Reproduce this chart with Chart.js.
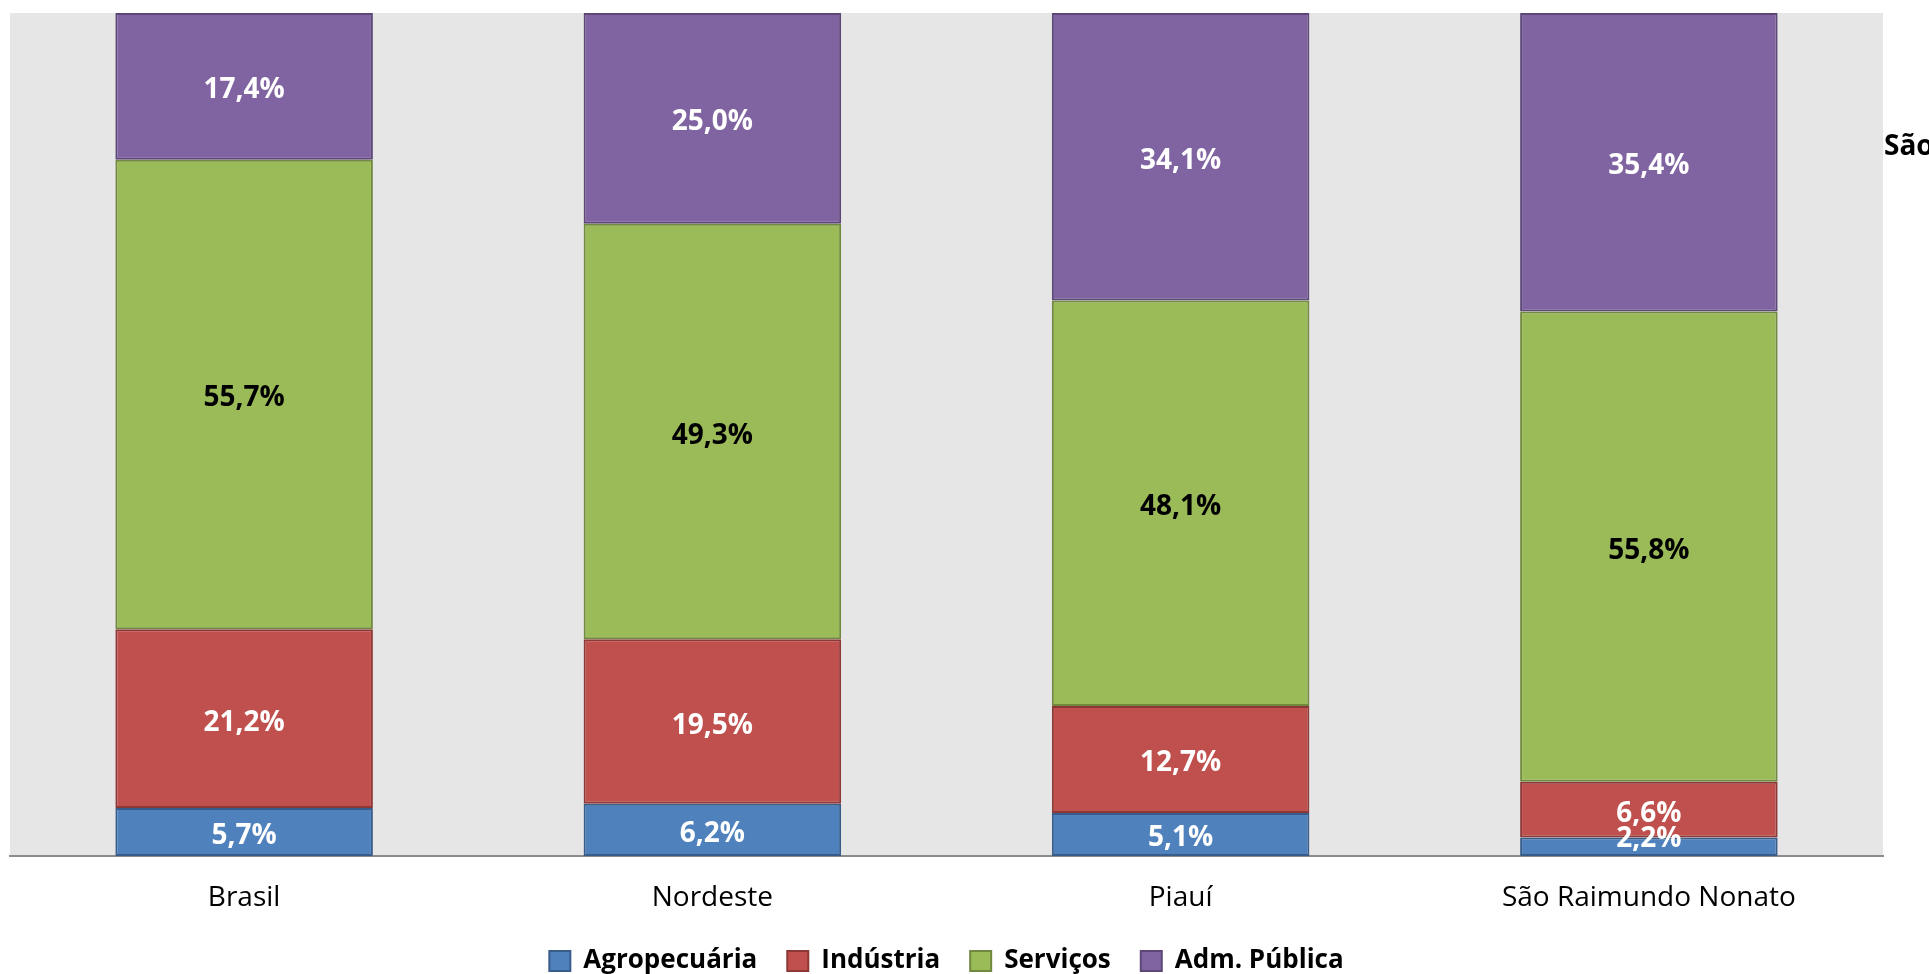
<!DOCTYPE html>
<html>
<head>
<meta charset="utf-8">
<title>PIB por setor</title>
<script src="https://cdn.jsdelivr.net/npm/chart.js@4.4.1/dist/chart.umd.min.js"></script>
<style>
	html, body { margin: 0; padding: 0; background: #ffffff; }
	#chart-wrap { width: 1929px; height: 974px; }
</style>
</head>
<body>
<div id="chart-wrap"><canvas id="pib-chart" width="1929" height="974"></canvas></div>
<script>
// chart values
var categories = ['Brasil', 'Nordeste', 'Piauí', 'São Raimundo Nonato'];
var seriesNames = ['Agropecuária', 'Indústria', 'Serviços', 'Adm. Pública'];
var agropecuaria = [5.7, 6.2, 5.1, 2.2];
var industria = [21.2, 19.5, 12.7, 6.6];
var servicos = [55.7, 49.3, 48.1, 55.8];
var admPublica = [17.4, 25.0, 34.1, 35.4];
var sideTitle = 'São Raimundo Nonato';

(function() {
	'use strict';

	var fontFamily = '"Open Sans", "DejaVu Sans", sans-serif';
	var fills = ['#4f81bd', '#c0504d', '#9bbb59', '#8064a2'];
	var edges = ['#385d8a', '#8c3836', '#71893f', '#5c4776'];
	var labelColors = ['#ffffff', '#ffffff', '#000000', '#ffffff'];
	var seriesValues = [agropecuaria, industria, servicos, admPublica];

	// grey plot background behind the bars
	var plotBackground = {
		id: 'plotBackground',
		beforeDraw: function(chart) {
			var area = chart.chartArea;
			var ctx = chart.ctx;
			ctx.save();
			ctx.fillStyle = '#e6e6e6';
			ctx.fillRect(area.left, area.top, area.right - area.left, area.bottom - area.top);
			ctx.restore();
		}
	};

	// value labels in the middle of each segment
	var segmentLabels = {
		id: 'segmentLabels',
		afterDatasetsDraw: function(chart) {
			var ctx = chart.ctx;
			var bottom = chart.chartArea.bottom;
			ctx.save();
			ctx.font = 'bold 28px ' + fontFamily;
			ctx.textAlign = 'center';
			ctx.textBaseline = 'middle';
			chart.data.datasets.forEach(function(ds, i) {
				var meta = chart.getDatasetMeta(i);
				meta.data.forEach(function(bar, j) {
					var y = (bar.y + bar.base) / 2 + 4;
					if (y > bottom - 17) y = bottom - 17;
					ctx.fillStyle = labelColors[i];
					ctx.fillText(ds.data[j].toFixed(1).replace('.', ',') + '%', bar.x, y);
				});
			});
			ctx.restore();
		}
	};

	// the title that runs off the right edge
	var clippedTitle = {
		id: 'clippedTitle',
		afterDraw: function(chart) {
			var ctx = chart.ctx;
			ctx.save();
			ctx.font = 'bold 28px ' + fontFamily;
			ctx.fillStyle = '#000000';
			ctx.textAlign = 'left';
			ctx.textBaseline = 'alphabetic';
			ctx.fillText(sideTitle, chart.chartArea.right + 1, 155);
			ctx.restore();
		}
	};

	var datasets = seriesNames.map(function(name, i) {
		return {
			label: name,
			data: seriesValues[i],
			backgroundColor: fills[i],
			borderColor: edges[i],
			borderWidth: 2,
			borderSkipped: false,
			categoryPercentage: 1,
			barPercentage: 0.55
		};
	});

	new Chart(document.getElementById('pib-chart'), {
		type: 'bar',
		data: {
			labels: categories,
			datasets: datasets
		},
		options: {
			responsive: false,
			animation: false,
			layout: {
				padding: { left: 10, right: 46, top: 13, bottom: -10 }
			},
			plugins: {
				legend: {
					position: 'bottom',
					labels: {
						boxWidth: 21,
						boxHeight: 20,
						padding: 30,
						color: '#000000',
						font: { family: fontFamily, size: 26, weight: 'bold', lineHeight: 0.6 }
					}
				},
				tooltip: { enabled: false }
			},
			scales: {
				x: {
					stacked: true,
					grid: { display: false, drawTicks: false },
					border: { display: true, color: '#8c8c8c', width: 2 },
					ticks: {
						color: '#000000',
						padding: 25,
						font: { family: fontFamily, size: 28 }
					},
					afterFit: function(scale) {
						scale.height = 62;
					}
				},
				y: {
					stacked: true,
					display: false,
					min: 0,
					max: 100
				}
			}
		},
		plugins: [plotBackground, segmentLabels, clippedTitle]
	});
})();
</script>
</body>
</html>
